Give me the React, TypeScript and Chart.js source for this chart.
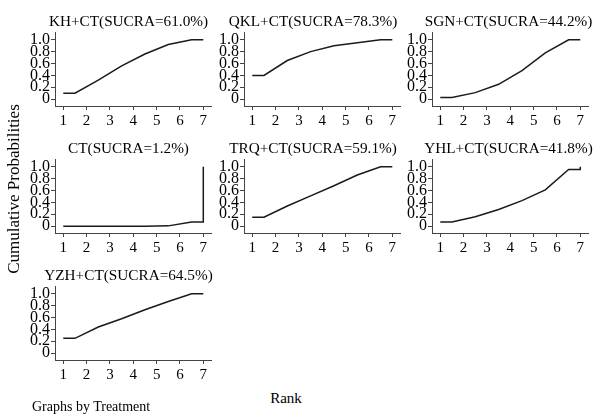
import React, { useEffect, useRef } from 'react';
import { Chart, registerables } from 'chart.js';

Chart.register(...registerables);

// ---- Data ----
const treatments = ['KH+CT', 'QKL+CT', 'SGN+CT', 'CT', 'TRQ+CT', 'YHL+CT', 'YZH+CT'];
const sucra = ['61.0', '78.3', '44.2', '1.2', '59.1', '41.8', '64.5'];
const ranks = [1, 2, 3, 4, 5, 6, 7];
// cumulative probabilities for rank 1..7
const khCT = [0.10, 0.32, 0.56, 0.76, 0.92, 1.0, 1.0];
const qklCT = [0.40, 0.65, 0.80, 0.90, 0.95, 1.0, 1.0];
const sgnCT = [0.03, 0.11, 0.25, 0.48, 0.78, 1.0, 1.0];
const ctOnly = [0.0, 0.0, 0.0, 0.0, 0.005, 0.07, 1.0];
const trqCT = [0.15, 0.34, 0.51, 0.68, 0.86, 1.0, 1.0];
const yhlCT = [0.07, 0.16, 0.28, 0.43, 0.61, 0.955, 1.0];
const yzhCT = [0.25, 0.44, 0.58, 0.73, 0.87, 1.0, 1.0];
const cumulative = [khCT, qklCT, sgnCT, ctOnly, trqCT, yhlCT, yzhCT];
const yTicks = [0, 0.2, 0.4, 0.6, 0.8, 1.0];
const xTicks = ranks;

const SERIF = '"Liberation Serif", "Times New Roman", serif';

function toPoints(c: number[]) {
  const pts: { x: number; y: number }[] = [{ x: ranks[0], y: c[0] }];
  for (let i = 0; i < 6; i++) pts.push({ x: ranks[i] + 0.5, y: c[i] });
  pts.push({ x: ranks[6], y: c[5] });
  pts.push({ x: ranks[6], y: c[6] });
  return pts;
}

// layout
const colLeft = [10, 199, 387];
const titleCenter = [128.5, 313, 508.5];
const rowTop = [0, 127, 254];
const CANVAS_W = 45 + 156 + 8;
const CANVAS_H = 128;

function Panel({ idx }: { idx: number }) {
  const ref = useRef<HTMLCanvasElement | null>(null);
  const col = idx % 3;
  const row = Math.floor(idx / 3);
  useEffect(() => {
    if (!ref.current) return;
    const chart = new Chart(ref.current, {
      type: 'line',
      data: {
        datasets: [
          {
            data: toPoints(cumulative[idx]),
            borderColor: '#1a1a1a',
            borderWidth: 1.5,
            pointRadius: 0,
            tension: 0,
            fill: false,
          },
        ],
      },
      options: {
        animation: false,
        responsive: false,
        events: [],
        layout: { padding: { left: 0, right: 8, top: 32, bottom: 0 } },
        plugins: {
          legend: { display: false },
          tooltip: { enabled: false },
          title: { display: false },
        },
        scales: {
          x: {
            type: 'linear',
            min: 0.645,
            max: 7.33,
            afterBuildTicks: (s: any) => {
              s.ticks = xTicks.map((v) => ({ value: v }));
            },
            afterFit: (s: any) => {
              s.height = 22;
            },
            ticks: {
              autoSkip: false,
              maxRotation: 0,
              padding: 2,
              color: '#000',
              font: { family: SERIF, size: 15 },
              callback: (v: any) => String(v),
            },
            grid: { display: true, drawOnChartArea: false, drawTicks: true, tickLength: 4, color: '#444' },
            border: { display: true, color: '#444', width: 1 },
          },
          y: {
            type: 'linear',
            min: -0.115,
            max: 1.13,
            afterBuildTicks: (s: any) => {
              s.ticks = yTicks.map((v) => ({ value: v }));
            },
            afterFit: (s: any) => {
              s.width = 45;
            },
            ticks: {
              autoSkip: false,
              padding: 1,
              color: '#000',
              font: { family: SERIF, size: 16 },
              callback: (v: any) => (Number(v) === 0 ? '0' : Number(v).toFixed(1)),
            },
            grid: { display: true, drawOnChartArea: false, drawTicks: true, tickLength: 4, color: '#444' },
            border: { display: true, color: '#444', width: 1 },
          },
        },
      } as any,
    });
    return () => chart.destroy();
  }, [idx]);
  return (
    <>
      <canvas
        ref={ref}
        width={CANVAS_W}
        height={CANVAS_H}
        style={{
          position: 'absolute',
          left: colLeft[col],
          top: rowTop[row],
          width: CANVAS_W,
          height: CANVAS_H,
        }}
      />
      <div
        style={{
          position: 'absolute',
          left: titleCenter[col] - 110,
          top: rowTop[row] + 12,
          width: 220,
          lineHeight: '18px',
          fontSize: 15.25,
          textAlign: 'center',
          whiteSpace: 'nowrap',
        }}
      >
        {`${treatments[idx]}(SUCRA=${sucra[idx]}%)`}
      </div>
    </>
  );
}

export default function App() {
  return (
    <div
      style={{
        position: 'fixed',
        left: 0,
        top: 0,
        width: 600,
        height: 416,
        background: '#fff',
        overflow: 'hidden',
        fontFamily: SERIF,
        color: '#000',
      }}
    >
      {treatments.map((_, i) => (
        <Panel key={i} idx={i} />
      ))}
      <div
        style={{
          position: 'absolute',
          left: 14 - 150,
          top: 189 - 10,
          width: 300,
          height: 20,
          lineHeight: '20px',
          fontSize: 17,
          textAlign: 'center',
          transform: 'rotate(-90deg)',
          whiteSpace: 'nowrap',
        }}
      >
        Cumulative Probabilities
      </div>
      <div
        style={{
          position: 'absolute',
          left: 236,
          top: 389,
          width: 100,
          lineHeight: '18px',
          fontSize: 15,
          textAlign: 'center',
        }}
      >
        Rank
      </div>
      <div
        style={{
          position: 'absolute',
          left: 32,
          top: 399,
          lineHeight: '16px',
          fontSize: 14,
          whiteSpace: 'nowrap',
        }}
      >
        Graphs by Treatment
      </div>
    </div>
  );
}
